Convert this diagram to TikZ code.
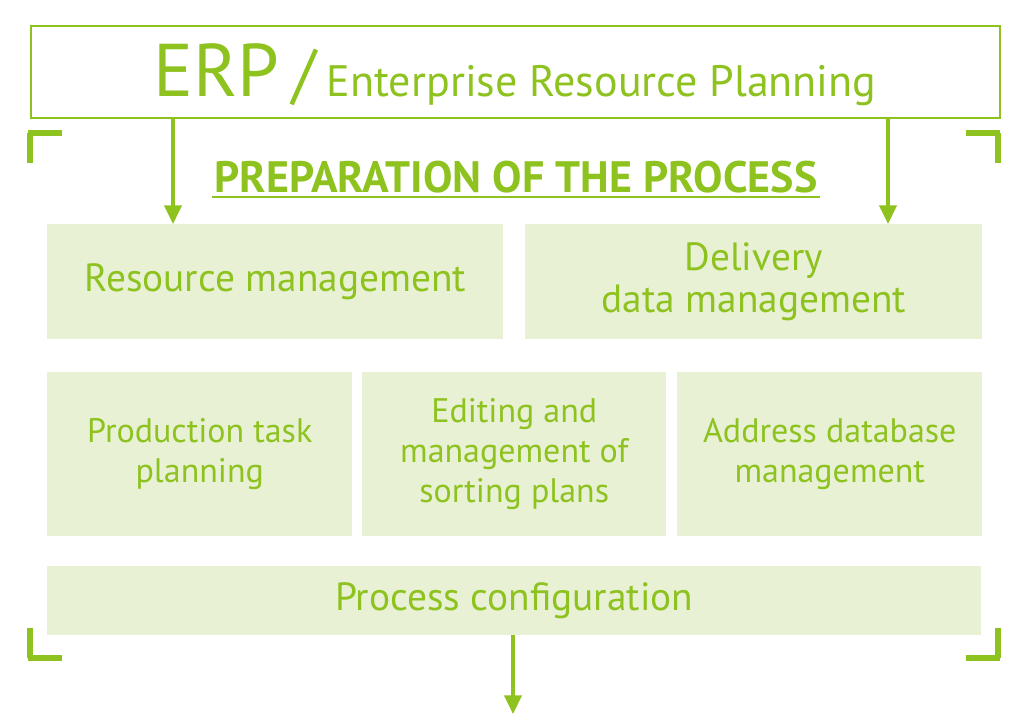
\documentclass[tikz,border=0pt]{standalone}
\usepackage{fontspec}
\setmainfont{PT Sans}
\usetikzlibrary{arrows.meta}
\definecolor{lime}{HTML}{8DC21F}
\definecolor{pale}{HTML}{E8F1D4}
\tikzset{
  box/.style={fill=pale,draw=none,text=lime,align=center},
  arr/.style={draw=lime,line width=2.5pt,-{Triangle[length=14pt,width=13pt]}},
  brk/.style={draw=lime,line width=3.8pt}
}
\begin{document}
\begin{tikzpicture}[x=0.75pt,y=-0.75pt]
\useasboundingbox (0,0) rectangle (1024,725);
\node[draw=lime,line width=1.5pt,minimum width=969*0.75pt,minimum height=92*0.75pt,anchor=north west,inner sep=0] (erp) at (30,25) {};
\node[text=lime,anchor=base] (erpt) at (515,96) {\fontsize{56}{60}\selectfont ERP\,\fontsize{50}{55}\selectfont/\,\fontsize{33}{36}\selectfont Enterprise Resource Planning};
\node[text=lime,font=\bfseries\fontsize{33}{36}\selectfont,inner sep=2pt] (title) at (516,177) {PREPARATION OF THE PROCESS};
\draw[lime,line width=1.5pt] ([yshift=-1pt]title.south west) -- ([yshift=-1pt]title.south east);
\node[box,minimum width=456*0.75pt,minimum height=115*0.75pt,anchor=north west,font=\fontsize{29.5}{32}\selectfont] (res) at (47,224) {Resource management};
\node[box,minimum width=457*0.75pt,minimum height=115*0.75pt,anchor=north west,font=\fontsize{29.5}{32}\selectfont] (del) at (525,224) {Delivery\\data management};
\node[box,minimum width=305*0.75pt,minimum height=164*0.75pt,anchor=north west,font=\fontsize{25.5}{30}\selectfont] (prod) at (47,372) {Production task\\planning};
\node[box,minimum width=304*0.75pt,minimum height=164*0.75pt,anchor=north west,font=\fontsize{25.5}{30}\selectfont] (edit) at (362,372) {Editing and\\management of\\sorting plans};
\node[box,minimum width=305*0.75pt,minimum height=164*0.75pt,anchor=north west,font=\fontsize{25.5}{30}\selectfont] (addr) at (677,372) {Address database\\management};
\node[box,minimum width=934*0.75pt,minimum height=69*0.75pt,anchor=north west,font=\fontsize{29.5}{32}\selectfont] (conf) at (47,566) {Process configuration};
\coordinate (a1) at (173,117); \coordinate (a2) at (888,117);
\coordinate (b0) at (513,635); \coordinate (out) at (513,714);
\draw[arr] (a1) -- (a1 |- res.north);
\draw[arr] (a2) -- (a2 |- del.north);
\draw[arr] (b0) -- (out);
\draw[brk] (30,133) -- (30,163) (28,133) -- (62,133);
\draw[brk] (998,133) -- (998,163) (1000,133) -- (966,133);
\draw[brk] (30,628) -- (30,658) (28,658) -- (62,658);
\draw[brk] (998,628) -- (998,658) (1000,658) -- (966,658);
\end{tikzpicture}
\end{document}
